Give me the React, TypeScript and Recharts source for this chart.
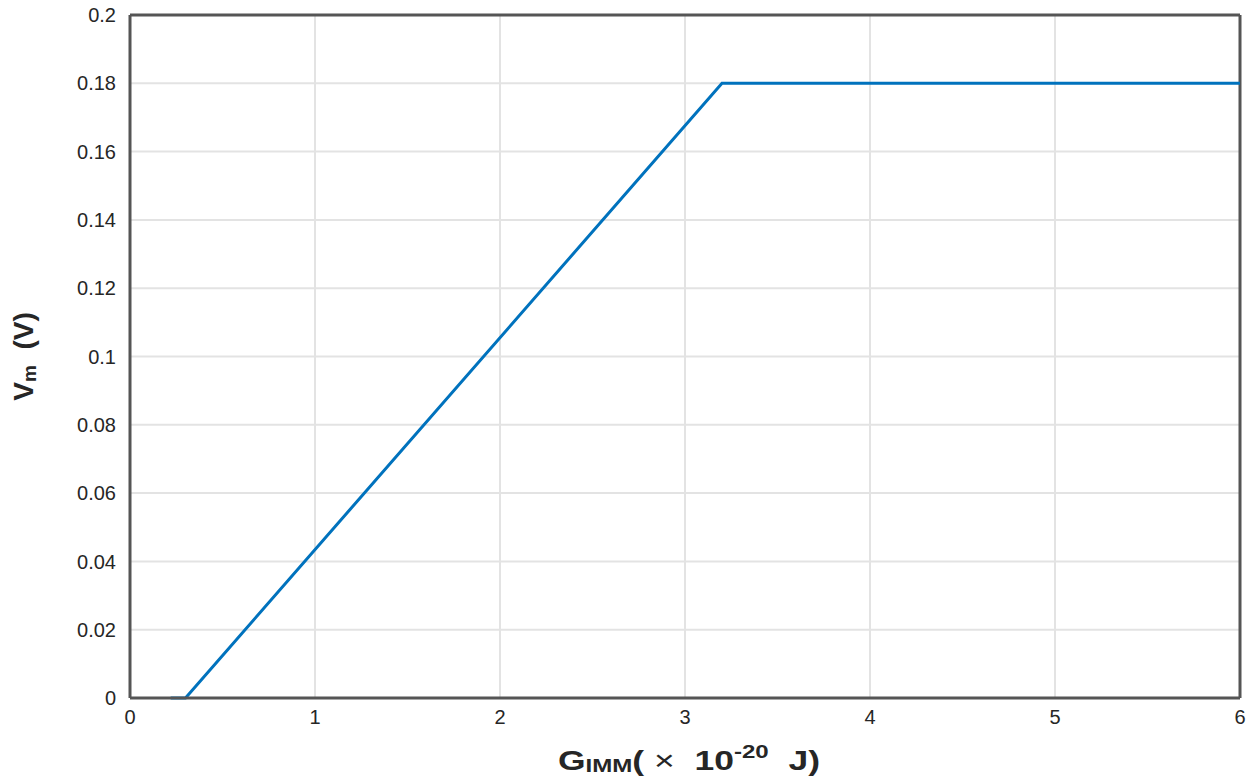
import { LineChart, Line, XAxis, YAxis, CartesianGrid, ReferenceLine } from "recharts";

const xValues = [0.22, 0.3, 3.2, 6];
const yValues = [0, 0, 0.18, 0.18];
const xTicks = [0, 1, 2, 3, 4, 5, 6];
const yTicks = [0, 0.02, 0.04, 0.06, 0.08, 0.1, 0.12, 0.14, 0.16, 0.18, 0.2];

const data = xValues.map((x, i) => ({ x, y: yValues[i] }));

const AXIS = "#555555";
const TEXT = "#262626";
const FONT = "'Liberation Sans', Arial, sans-serif";

export default function App() {
  return (
    <div style={{ position: "absolute", left: 0, top: 0, width: 1257, height: 780, background: "#fff" }}>
      <LineChart
        width={1257}
        height={780}
        data={data}
        margin={{ top: 15, right: 17, left: 60, bottom: 32 }}
      >
        <CartesianGrid stroke="#e3e3e3" strokeWidth={2} verticalValues={xTicks} horizontalValues={yTicks} />
        <XAxis
          dataKey="x"
          type="number"
          domain={[0, 6]}
          ticks={xTicks}
          height={50}
          stroke={AXIS}
          strokeWidth={3}
          tickLine={false}
          tick={{ fill: TEXT, fontSize: 20, fontFamily: FONT }}
          tickMargin={6}
          label={() => (
            <text
              x={558}
              y={770}
              textAnchor="start"
              textLength={262}
              lengthAdjust="spacingAndGlyphs"
              fill={TEXT}
              fontFamily={FONT}
              fontWeight="bold"
              fontSize={28}
              style={{ whiteSpace: "pre" }}
            >
              G
              <tspan fontSize={19} dy={2}>IMM</tspan>
              <tspan dy={-2}>(</tspan>
              <tspan fontWeight="normal">{" × "}</tspan>
              <tspan>{" 10"}</tspan>
              <tspan fontSize={19} dy={-12}>-20</tspan>
              <tspan dy={12}>{"  J)"}</tspan>
            </text>
          )}
        />
        <YAxis
          type="number"
          domain={[0, 0.2]}
          ticks={yTicks}
          width={70}
          stroke={AXIS}
          strokeWidth={3}
          tickLine={false}
          tick={{ fill: TEXT, fontSize: 20, fontFamily: FONT }}
          tickMargin={8}
          tickFormatter={(v: number) => String(Number(v.toFixed(2)))}
          label={({ viewBox }: any) => {
            const cy = viewBox.y + viewBox.height / 2;
            return (
              <text
                x={33}
                y={cy}
                transform={`rotate(-90 33 ${cy})`}
                textAnchor="middle"
                fill={TEXT}
                fontFamily={FONT}
                fontWeight="bold"
                fontSize={28}
                style={{ whiteSpace: "pre" }}
              >
                V
                <tspan fontSize={19} dy={3}>m</tspan>
                <tspan dy={-3}>{"  (V)"}</tspan>
              </text>
            );
          }}
        />
        <ReferenceLine y={0.2} stroke={AXIS} strokeWidth={3} ifOverflow="extendDomain" />
        <ReferenceLine x={6} stroke={AXIS} strokeWidth={3} />
        <Line
          dataKey="y"
          stroke="#0072BD"
          strokeWidth={3}
          dot={false}
          isAnimationActive={false}
          type="linear"
        />
      </LineChart>
    </div>
  );
}
